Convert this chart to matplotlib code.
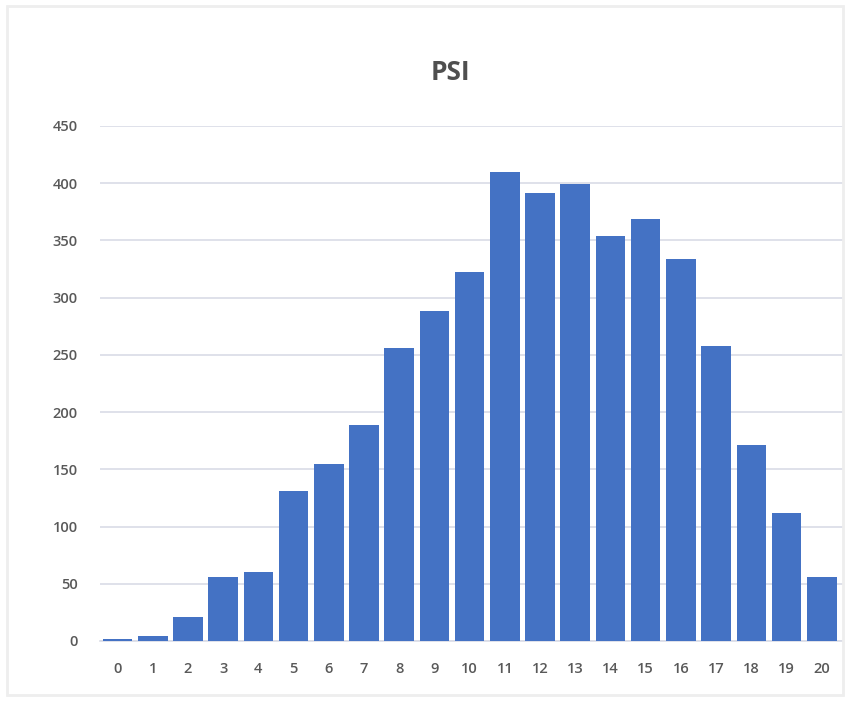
import matplotlib
matplotlib.use("Agg")
import matplotlib.pyplot as plt
from matplotlib.patches import Rectangle

# PSI score distribution (counts per score)
scores = list(range(21))
counts = [2, 4, 21, 56, 60, 131, 155, 189, 256, 288, 322,
          410, 391, 399, 354, 369, 334, 258, 171, 112, 56]
y_ticks = [0, 50, 100, 150, 200, 250, 300, 350, 400, 450]

bar_color = "#4472C4"
text_color = "#595959"
grid_color = "#D9DCE6"

plt.rcParams["font.family"] = ["Open Sans", "DejaVu Sans"]

fig = plt.figure(figsize=(8.5, 7.01), dpi=100)
fig.patch.set_facecolor("white")
# faint frame round the chart area
fig.patches.append(Rectangle((0.008, 0.008), 0.984, 0.984, transform=fig.transFigure,
                             fill=False, edgecolor="#EEEEEE", linewidth=2))

ax = fig.add_axes([0.1176, 0.0856, 0.874, 0.7347])
ax.bar(scores, counts, width=0.84, color=bar_color, zorder=3)

ax.set_ylim(0, 450)
ax.set_xlim(-0.5, 20.6)
ax.set_yticks(y_ticks)
ax.set_xticks(scores)
ax.set_xticklabels([str(s) for s in scores])
ax.yaxis.grid(True, color=grid_color, linewidth=1.2, zorder=0)
ax.set_axisbelow(True)

for side in ["top", "right", "left"]:
    ax.spines[side].set_visible(False)
ax.spines["bottom"].set_color(grid_color)
ax.spines["bottom"].set_linewidth(1.2)

ax.tick_params(axis="both", length=0, colors=text_color, labelsize=10.5)
ax.tick_params(axis="y", pad=16)
ax.tick_params(axis="x", pad=15)
for lbl in ax.get_xticklabels() + ax.get_yticklabels():
    lbl.set_fontweight("semibold")

fig.text(0.53, 0.897, "PSI", ha="center", va="center", fontsize=19,
         fontweight="bold", color="#4F4F4F")

fig.savefig("out.png", dpi=100, facecolor="white")
